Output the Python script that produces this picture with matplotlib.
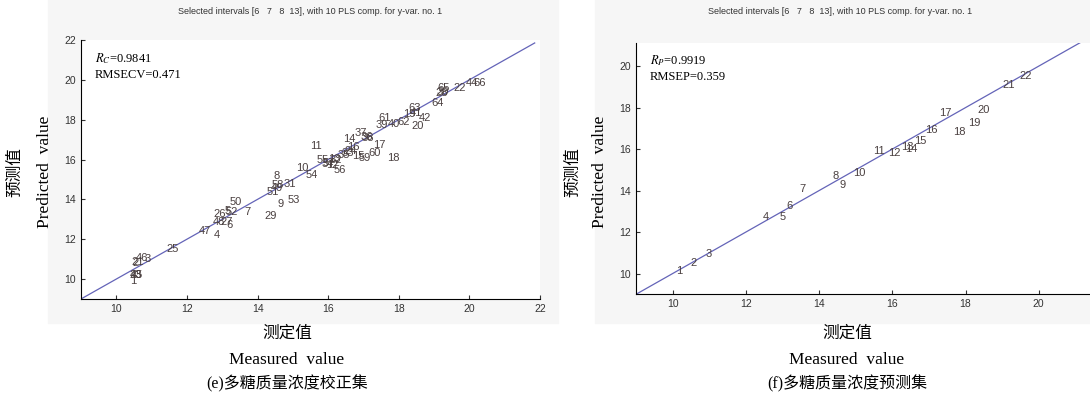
import matplotlib
matplotlib.use("Agg")
import matplotlib.pyplot as plt
from matplotlib.patches import Rectangle

# calibration set (e): measured, predicted, sample no.
cal_id = list(range(1, 67))
cal_x = [10.40, 10.46, 10.80, 12.75, 13.07, 13.13, 13.64, 14.45, 14.56, 15.10,
         15.49, 15.94, 16.01, 16.41, 16.68, 16.55, 17.28, 17.66, 18.13, 18.35,
         10.43, 19.54, 10.37, 16.45, 11.41, 12.74, 12.95, 19.04, 14.19, 19.06,
         14.73, 16.03, 16.38, 15.80, 16.27, 16.93, 16.74, 16.96, 17.34, 17.69,
         18.30, 18.57, 10.38, 19.90, 10.40, 10.56, 12.34, 12.74, 14.38, 13.21,
         14.25, 13.10, 14.85, 15.37, 15.68, 16.15, 15.84, 14.40, 16.87, 17.15,
         17.41, 17.97, 18.26, 18.92, 19.08, 20.10]
cal_y = [9.92, 10.80, 10.99, 12.21, 13.44, 12.73, 13.39, 15.17, 13.78, 15.57,
         16.68, 15.70, 16.04, 17.01, 16.16, 16.63, 16.74, 16.09, 18.27, 17.67,
         10.84, 19.61, 10.22, 16.45, 11.51, 13.27, 12.85, 19.36, 13.15, 19.40,
         14.78, 16.00, 16.35, 15.78, 16.21, 17.13, 17.33, 17.08, 17.72, 17.77,
         18.35, 18.10, 10.18, 19.82, 10.20, 11.04, 12.40, 12.85, 14.55, 13.88,
         14.38, 13.35, 13.99, 15.20, 15.96, 15.45, 15.85, 14.70, 16.07, 16.33,
         18.10, 17.89, 18.59, 18.84, 19.61, 19.85]

# prediction set (f)
pre_id = list(range(1, 23))
pre_x = [10.10, 10.48, 10.89, 12.47, 12.91, 13.12, 13.47, 14.37, 14.56, 14.92,
         15.47, 15.88, 16.24, 16.36, 16.60, 16.90, 17.27, 17.66, 18.06, 18.33,
         19.02, 19.47]
pre_y = [10.10, 10.53, 10.93, 12.71, 12.71, 13.27, 14.06, 14.70, 14.27, 14.83,
         15.92, 15.79, 16.08, 16.00, 16.40, 16.92, 17.72, 16.84, 17.27, 17.88,
         19.07, 19.53]

cal_line = [9, 21.85]
pre_line = [9, 21.15]
ticks_cal = [10, 12, 14, 16, 18, 20, 22]
ticks_pre = [10, 12, 14, 16, 18, 20]

title = "Selected intervals [6   7   8  13], with 10 PLS comp. for y-var. no. 1"
serif = ["Liberation Serif", "Noto Sans CJK SC"]
cjk = ["Noto Sans CJK SC", "Liberation Serif"]
plt.rcParams["font.family"] = ["Liberation Sans", "DejaVu Sans"]

fig = plt.figure(figsize=(10.9, 3.97), dpi=100)
fig.patches.append(Rectangle((48/1090, 1-323/397), 510/1090, 323/397,
                             transform=fig.transFigure, color="#f6f6f6", zorder=-5))
fig.patches.append(Rectangle((595/1090, 1-323/397), 495/1090, 323/397,
                             transform=fig.transFigure, color="#f6f6f6", zorder=-5))

panels = [
    ([0.0743, 0.2469, 0.4211, 0.6524], cal_x, cal_y, cal_id, cal_line, (9, 22), (9, 22),
     ticks_cal, "$R_C$=0.9841", "RMSECV=0.471", 310, 287, "(e)多糖质量浓度校正集", 15, 45),
    ([0.5835, 0.2587, 0.4165, 0.6322], pre_x, pre_y, pre_id, pre_line, (9, 21.4), (9, 21.1),
     ticks_pre, "$R_P$=0.9919", "RMSEP=0.359", 840, 847, "(f)多糖质量浓度预测集", 573, 600),
]

for pos, xs, ys, ids, ln, xl, yl, tk, r_txt, rm_txt, tx, bx, cap, zx, ex in panels:
    ax = fig.add_axes(pos)
    ax.set_facecolor("white")
    ax.plot(ln, ln, color="#6464b8", lw=0.9)
    for x, y, n in zip(xs, ys, ids):
        ax.text(x, y, str(n), ha="left", va="center", fontsize=8, color="#4a4040")
    ax.set_xlim(xl)
    ax.set_ylim(yl)
    ax.set_xticks(tk)
    ax.set_yticks(tk)
    ax.tick_params(direction="in", length=3, labelsize=7.5, colors="#333333")
    ax.spines["top"].set_visible(False)
    ax.spines["right"].set_visible(False)
    ax.text(0.03, 0.93, r_txt, transform=ax.transAxes, fontsize=9, family=serif,
            va="center", math_fontfamily="stix")
    ax.text(0.03, 0.865, rm_txt, transform=ax.transAxes, fontsize=9, family=serif,
            va="center")
    fig.text(tx / 1090, 1 - 12 / 397, title, ha="center", va="center", fontsize=6.5,
             color="#333333")
    fig.text(bx / 1090, 1 - 333 / 397, "测定值", ha="center", va="center",
             fontsize=12, family=cjk)
    fig.text(bx / 1090, 1 - 360 / 397, "Measured  value", ha="center", va="center",
             fontsize=12.5, family=serif)
    fig.text(bx / 1090, 1 - 384 / 397, cap, ha="center", va="center",
             fontsize=11.5, family=serif)
    fig.text(zx / 1090, 1 - 172 / 397, "预测值", ha="center", va="center",
             fontsize=12, family=cjk, rotation=90)
    fig.text(ex / 1090, 1 - 172 / 397, "Predicted  value", ha="center", va="center",
             fontsize=12.5, family=serif, rotation=90)

fig.savefig("out.png", dpi=100)
